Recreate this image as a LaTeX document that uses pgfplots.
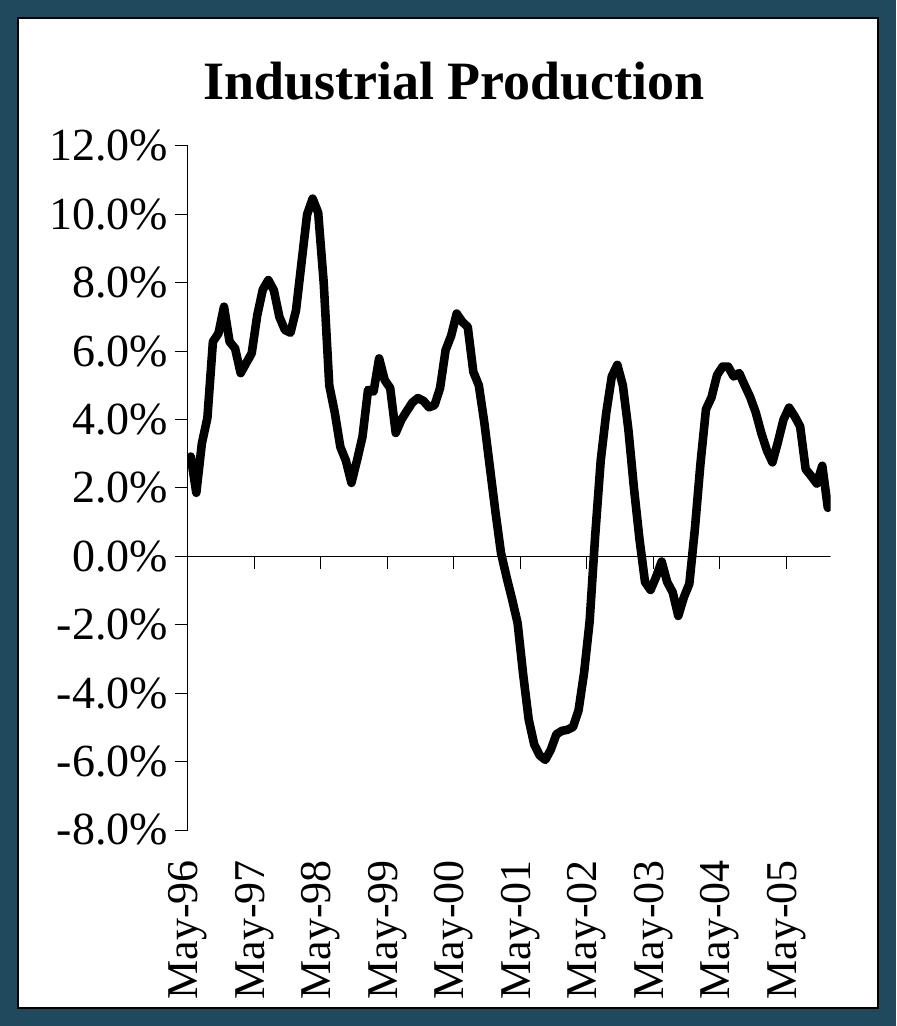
\documentclass[border=0pt]{standalone}
\usepackage{pgfplots}
\pgfplotsset{compat=1.18}
\usepackage{fontspec}
\setmainfont{Liberation Serif}
\definecolor{framecol}{RGB}{31,73,93}

\pgfplotstableread{
i v
0 2.92
1 1.86
2 3.30
3 4.05
4 6.28
5 6.52
6 7.30
7 6.28
8 6.08
9 5.36
10 5.65
11 5.94
12 7.05
13 7.80
14 8.08
15 7.78
16 7.00
17 6.62
18 6.54
19 7.20
20 8.60
21 10.00
22 10.46
23 10.05
24 8.00
25 5.00
26 4.20
27 3.20
28 2.80
29 2.15
30 2.80
31 3.50
32 4.87
33 4.82
34 5.79
35 5.16
36 4.92
37 3.61
38 3.99
39 4.25
40 4.50
41 4.63
42 4.55
43 4.36
44 4.42
45 4.92
46 6.03
47 6.45
48 7.10
49 6.86
50 6.71
51 5.40
52 5.00
53 3.90
54 2.60
55 1.30
56 0.10
57 -0.60
58 -1.25
59 -1.95
60 -3.45
61 -4.77
62 -5.50
63 -5.82
64 -5.95
65 -5.65
66 -5.20
67 -5.10
68 -5.07
69 -4.99
70 -4.50
71 -3.40
72 -1.90
73 0.60
74 2.80
75 4.20
76 5.26
77 5.60
78 5.00
79 3.70
80 2.00
81 0.50
82 -0.75
83 -0.98
84 -0.60
85 -0.15
86 -0.75
87 -1.05
88 -1.74
89 -1.20
90 -0.80
91 0.80
92 2.70
93 4.30
94 4.65
95 5.30
96 5.55
97 5.55
98 5.26
99 5.36
100 5.00
101 4.65
102 4.20
103 3.60
104 3.10
105 2.75
106 3.35
107 4.00
108 4.35
109 4.10
110 3.80
111 2.55
112 2.35
113 2.13
114 2.65
115 1.42
}\ipdata

\begin{document}
\begin{tikzpicture}
\useasboundingbox (-94pt,-98pt) rectangle (354pt,415pt);
\fill[framecol] (-94pt,-98pt) rectangle (354pt,415pt);
\filldraw[fill=white, draw=black, line width=1pt] (-85pt,-89pt) rectangle (345pt,406pt);
\node[anchor=base, font=\fontsize{27}{32}\selectfont\bfseries] at (133pt,365pt) {Industrial Production};
\begin{axis}[
  at={(0pt,0pt)}, anchor=south west,
  scale only axis,
  width=321.3pt, height=342pt,
  xmin=-0.5, xmax=115.5,
  ymin=-8, ymax=12,
  axis y line*=left,
  axis x line*=bottom,
  x axis line style={draw=none},
  y axis line style={black, line width=0.5pt},
  ytick={-8,-6,-4,-2,0,2,4,6,8,10,12},
  yticklabels={-8.0\%,-6.0\%,-4.0\%,-2.0\%,0.0\%,2.0\%,4.0\%,6.0\%,8.0\%,10.0\%,12.0\%},
  xtick={-0.5,11.5,23.5,35.5,47.5,59.5,71.5,83.5,95.5,107.5},
  xticklabels={May-96,May-97,May-98,May-99,May-00,May-01,May-02,May-03,May-04,May-05},
  tick align=outside,
  major tick length=6.5pt,
  y tick style={black, line width=0.5pt},
  x tick style={draw=none},
  minor tick num=0,
  yticklabel style={font=\fontsize{23}{27}\selectfont, anchor=east},
  xticklabel style={font=\fontsize{22}{26}\selectfont, yshift=-5pt, rotate=90, anchor=east},
  axis background/.style={fill=white},
]
\draw[black, line width=0.5pt] (axis cs:-0.5,0) -- (axis cs:115.5,0);
\pgfplotsinvokeforeach{11.5,23.5,35.5,47.5,59.5,71.5,83.5,95.5,107.5}{
  \draw[black, line width=0.5pt] (axis cs:#1,0) -- ++(0pt,-6.5pt);
}
\addplot[black, line width=4.3pt, line join=round, line cap=round, mark=none] table[x=i, y=v] {\ipdata};
\end{axis}
\end{tikzpicture}
\end{document}
